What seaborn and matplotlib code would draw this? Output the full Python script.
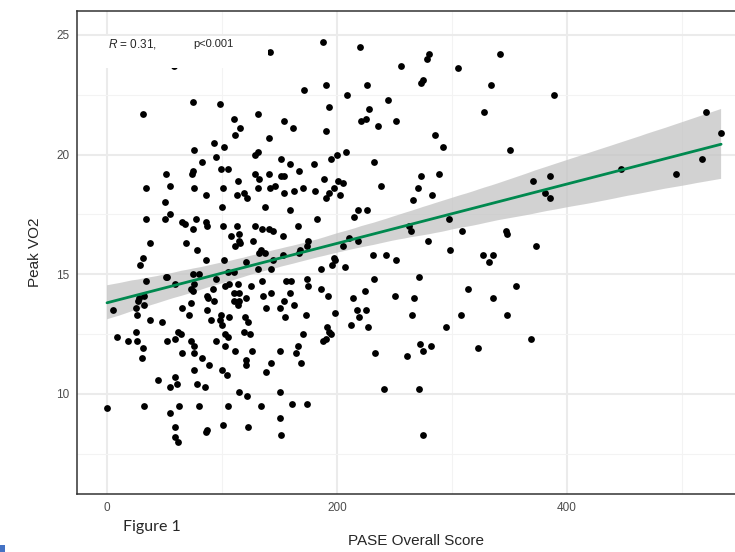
import matplotlib
matplotlib.use("Agg")
import numpy as np
import pandas as pd
import seaborn as sns
import matplotlib.pyplot as plt
from matplotlib.patches import Rectangle
from matplotlib.collections import PolyCollection
from matplotlib.ticker import MultipleLocator

# ---- data ----
pase = [
    21, 58, 142, 75, 98, 31, 110, 131, 154, 116, 111, 162, 141, 93, 102, 76, 95, 129, 131, 151,
    159, 83, 99, 105, 75, 74, 51, 114, 129, 132, 141, 151, 154, 167, 34, 55, 76, 101, 113, 119,
    122, 142, 146, 131, 154, 163, 170, 86, 50, 55, 50, 34, 100, 137, 159, 65, 68, 77, 75, 86,
    87, 101, 113, 129, 135, 141, 144, 166, 153, 108, 115, 115, 127, 37, 69, 78, 111, 116, 132, 134,
    137, 153, 167, 168, 175, 174, 31, 29, 34, 52, 51, 59, 75, 76, 80, 75, 73, 86, 102, 121,
    95, 105, 110, 103, 106, 114, 125, 135, 144, 143, 131, 156, 160, 174, 32, 28, 92, 87, 88, 110,
    115, 136, 143, 159, 175, 93, 110, 115, 114, 121, 138, 154, 150, 163, 173, 155, 170, 166, 164, 169,
    174, 161, 150, 150, 150, 151, 143, 138, 134, 126, 123, 122, 115, 121, 121, 124, 119, 123, 120, 111,
    106, 103, 105, 103, 100, 98, 99, 90, 87, 95, 89, 100, 104, 105, 101, 87, 86, 80, 85, 78,
    76, 83, 76, 76, 73, 65, 64, 62, 59, 52, 71, 73, 65, 48, 37, 25, 26, 27, 32, 5,
    9, 18, 25, 26, 31, 30, 44, 59, 55, 61, 63, 55, 59, 59, 62, 32, 0,
    188, 220, 280, 278, 342, 256, 305, 275, 273, 190, 226, 334, 171, 209, 389, 193, 244, 228, 328, 221,
    225, 236, 251, 190, 285, 292, 350, 195, 200, 208, 232, 180, 189, 201, 205, 197, 181, 193, 190, 203,
    238, 273, 289, 270, 266, 283, 183, 215, 218, 226, 297, 370, 385, 381, 385,
    205, 210, 218, 263, 264, 309, 347, 348, 279, 298, 373, 327, 332, 336, 231, 243, 251, 197, 198, 196,
    207, 186, 271, 232, 186, 192, 198, 214, 224, 217, 219, 225, 212, 227, 250, 267, 265, 314, 356, 336,
    308, 348, 295, 369, 323, 272, 275, 282, 261, 233, 191, 188, 190, 193, 195, 241, 271, 275,
    521, 534, 517, 495, 447,
]
vo2 = [
    24.6, 23.7, 24.3, 22.2, 22.1, 21.7, 21.5, 21.7, 21.4, 21.1, 20.8, 21.1, 20.7, 20.5, 20.3, 20.2, 19.9, 20.0, 20.1, 19.8,
    19.6, 19.7, 19.4, 19.4, 19.3, 19.2, 19.2, 18.9, 19.2, 19.0, 19.2, 19.1, 19.1, 19.3, 18.6, 18.7, 18.6, 18.6, 18.3, 18.4,
    18.2, 18.6, 18.7, 18.6, 18.4, 18.5, 18.6, 18.3, 18.0, 17.5, 17.3, 17.3, 17.8, 17.8, 17.7, 17.2, 17.1, 17.3, 16.9, 17.2,
    17.0, 17.0, 17.0, 17.0, 16.9, 16.9, 16.8, 17.0, 16.6, 16.6, 16.7, 16.4, 16.4, 16.3, 16.3, 16.0, 16.2, 16.3, 15.9, 16.0,
    15.9, 15.8, 15.9, 16.0, 16.4, 16.2, 15.7, 15.4, 14.7, 14.9, 14.9, 14.6, 15.0, 14.6, 15.0, 14.3, 14.4, 15.6, 15.6, 15.5,
    14.8, 15.1, 15.1, 14.5, 14.6, 14.6, 14.5, 14.7, 15.6, 15.2, 15.2, 14.7, 14.7, 14.8, 14.1, 14.0, 14.4, 14.1, 14.0, 14.2,
    14.2, 14.1, 14.2, 14.2, 14.5, 13.9, 13.9, 13.9, 13.7, 14.0, 13.6, 13.9, 13.6, 13.7, 13.3, 13.2, 12.5, 12.0, 11.7, 11.3,
    9.6, 9.6, 11.8, 10.1, 9.0, 8.3, 11.3, 10.9, 9.5, 11.8, 8.6, 9.9, 10.1, 11.4, 11.2, 12.5, 12.6, 13.0, 13.2, 11.8,
    13.2, 12.5, 12.4, 12.0, 12.9, 13.1, 13.3, 13.1, 13.5, 12.2, 11.2, 11.0, 10.8, 9.5, 8.7, 8.5, 8.4, 9.5, 10.3, 10.4,
    11.0, 11.5, 11.7, 12.0, 12.2, 11.7, 12.5, 12.6, 12.3, 12.2, 13.3, 13.8, 13.6, 13.0, 13.1, 13.6, 13.3, 13.9, 13.7, 13.5,
    12.4, 12.2, 12.6, 12.2, 11.9, 11.5, 10.6, 10.7, 10.3, 10.4, 9.5, 9.2, 8.6, 8.2, 8.0, 9.5, 9.4,
    24.7, 24.5, 24.2, 24.0, 24.2, 23.7, 23.6, 23.1, 23.0, 22.9, 22.9, 22.9, 22.7, 22.5, 22.5, 22.0, 22.3, 21.9, 21.8, 21.4,
    21.5, 21.2, 21.4, 21.0, 20.8, 20.3, 20.2, 19.8, 20.0, 20.1, 19.7, 19.6, 19.0, 18.9, 18.8, 18.6, 18.5, 18.4, 18.2, 18.3,
    18.7, 19.1, 19.2, 18.6, 18.1, 18.3, 17.3, 17.4, 17.7, 17.7, 17.3, 18.9, 19.1, 18.4, 18.2,
    16.2, 16.5, 16.4, 17.0, 16.8, 16.8, 16.8, 16.7, 16.4, 16.0, 16.2, 15.8, 15.5, 15.8, 15.8, 15.8, 15.6, 15.7, 15.6, 15.4,
    15.3, 15.2, 14.9, 14.8, 14.4, 14.1, 13.4, 14.0, 14.3, 13.5, 13.2, 13.5, 12.9, 12.8, 14.1, 14.0, 13.3, 14.4, 14.5, 14.0,
    13.3, 13.3, 12.8, 12.3, 11.9, 12.1, 11.8, 12.0, 11.6, 11.7, 12.8, 12.2, 12.3, 12.6, 12.5, 10.2, 10.2, 8.3,
    21.8, 20.9, 19.8, 19.2, 19.4,
]
x_ticks = [0, 200, 400]
y_ticks = [10, 15, 20, 25]
stat_r = "0.31"
stat_p = "p<0.001"

# ---- style ----
sns.set_style("white")
plt.rcParams['font.family'] = ['Liberation Sans', 'DejaVu Sans']
plt.rcParams['mathtext.fontset'] = 'custom'
plt.rcParams['mathtext.it'] = 'Liberation Sans:italic'
plt.rcParams['mathtext.rm'] = 'Liberation Sans'

df = pd.DataFrame({"PASE Overall Score": pase, "Peak VO2": vo2})

fig = plt.figure(figsize=(7.35, 5.52), dpi=100)
ax = fig.add_axes([77 / 735, 58 / 552, 677 / 735, 483 / 552])

sns.regplot(data=df, x="PASE Overall Score", y="Peak VO2", ax=ax, ci=95, seed=1,
            scatter_kws=dict(s=24, color="black", alpha=1, linewidths=0, zorder=2),
            line_kws=dict(color="#00894F", lw=2.0, zorder=4))
for coll in ax.collections:
    if isinstance(coll, PolyCollection):
        coll.set_facecolor("#C4C4C4")
        coll.set_alpha(0.75)
        coll.set_edgecolor("none")
        coll.set_zorder(1.5)

ax.set_xlim(-26.1, 562.6)
ax.set_ylim(5.82, 26.0)
ax.set_xticks(x_ticks)
ax.set_yticks(y_ticks)
ax.xaxis.set_minor_locator(MultipleLocator(100))
ax.yaxis.set_minor_locator(MultipleLocator(2.5))
ax.grid(which="major", color="#EBEBEB", lw=1.5)
ax.grid(which="minor", color="#F3F3F3", lw=0.8)
ax.set_axisbelow(True)

for s in ax.spines.values():
    s.set_color("#333333")
    s.set_linewidth(1.1)
ax.tick_params(which="major", length=3.5, width=1, color="#333333",
               labelcolor="#4D4D4D", labelsize=8.5, pad=2)
ax.tick_params(which="minor", length=0)

ax.set_xlabel("PASE Overall Score", fontsize=11)
ax.set_ylabel("Peak VO2", fontsize=11)
ax.xaxis.set_label_coords(0.5, -(541 - 494) / 483)
ax.xaxis.label.set_va("center")
ax.yaxis.set_label_coords(-(77 - 35) / 677, 0.5)
ax.yaxis.label.set_va("center")

# annotation box
ax.add_patch(Rectangle((-6.1, 23.62), 146.1, 1.34, facecolor="white",
                       edgecolor="none", zorder=3))
ax.text(0.9, 24.62, r"$R$ = " + stat_r + ",", fontsize=8.5, va="center",
        ha="left", zorder=5)
ax.text(75, 24.62, stat_p, fontsize=8, va="center", ha="left", zorder=5)

fig.text(123 / 735, 1 - 527 / 552, "Figure 1", fontsize=11.5,
         family=["Lato", "DejaVu Sans"], va="center", ha="left")
fig.patches.append(Rectangle((0, 0), 5 / 735, 7 / 552, transform=fig.transFigure,
                             facecolor="#4472C4", edgecolor="none"))

fig.savefig("out.png", dpi=100)
